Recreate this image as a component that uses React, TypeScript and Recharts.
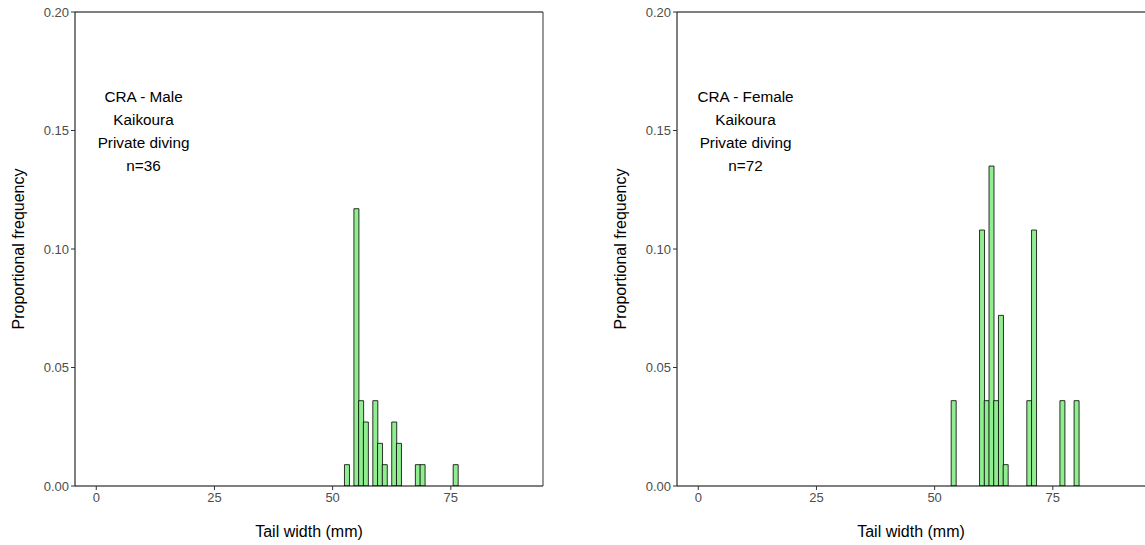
import React from "react";
import {
  BarChart,
  Bar,
  XAxis,
  YAxis,
  ReferenceLine,
  ReferenceDot,
  Label,
} from "recharts";

// tail width bins (mm) and proportional frequency
const maleWidths = [53, 55, 56, 57, 59, 60, 61, 63, 64, 68, 69, 76];
const maleFreq = [0.009, 0.117, 0.036, 0.027, 0.036, 0.018, 0.009, 0.027, 0.018, 0.009, 0.009, 0.009];

const femaleWidths = [54, 60, 61, 62, 63, 64, 65, 70, 71, 77, 80];
const femaleFreq = [0.036, 0.108, 0.036, 0.135, 0.036, 0.072, 0.009, 0.036, 0.108, 0.036, 0.036];

const xTicks = [0, 25, 50, 75];
const yTicks = [0, 0.05, 0.1, 0.15, 0.2];

const maleNote = ["CRA - Male", "Kaikoura", "Private diving", "n=36"];
const femaleNote = ["CRA - Female", "Kaikoura", "Private diving", "n=72"];

const FONT = '"Liberation Sans", Arial, sans-serif';

function NoteLabel(props: any) {
  const { viewBox, lines } = props;
  const cx = viewBox.x + (viewBox.width || 0) / 2;
  const cy = viewBox.y + (viewBox.height || 0) / 2;
  const lh = 23;
  const top = cy - ((lines.length - 1) * lh) / 2;
  return (
    <text
      x={cx}
      y={top}
      textAnchor="middle"
      dominantBaseline="central"
      fontSize={15.3}
      fill="#000"
      fontFamily={FONT}
    >
      {lines.map((l: string, i: number) => (
        <tspan key={i} x={cx} y={top + i * lh}>
          {l}
        </tspan>
      ))}
    </text>
  );
}

function Panel({ widths, freq, note, right }: any) {
  const data = widths.map((w: number, i: number) => ({ width: w, freq: freq[i] }));
  return (
    <BarChart
      width={right ? 572 : 543}
      height={545}
      data={data}
      margin={{ top: 12, right: right ? 29 : 0, bottom: 0, left: 0 }}
      barCategoryGap={0}
      barGap={0}
      style={{ fontFamily: FONT }}
    >
      <XAxis
        type="number"
        dataKey="width"
        domain={[-4.5, 94.5]}
        ticks={xTicks}
        interval={0}
        allowDataOverflow
        height={59}
        tickSize={4}
        tickMargin={3}
        tick={{ fill: "#4d4d4d", fontSize: 13 }}
        tickLine={{ stroke: "#333" }}
        axisLine={{ stroke: "#000" }}
      >
        <Label
          value="Tail width (mm)"
          position="insideBottom"
          offset={8}
          style={{ fill: "#000", fontSize: 16 }}
        />
      </XAxis>
      <YAxis
        type="number"
        domain={[0, 0.2]}
        ticks={yTicks}
        interval={0}
        allowDataOverflow
        width={75}
        tickSize={4}
        tickMargin={2}
        tickFormatter={(v: number) => v.toFixed(2)}
        tick={{ fill: "#4d4d4d", fontSize: 13 }}
        tickLine={{ stroke: "#333" }}
        axisLine={{ stroke: "#000" }}
      >
        <Label
          value="Proportional frequency"
          angle={-90}
          position="insideLeft"
          offset={18}
          style={{ fill: "#000", fontSize: 16, textAnchor: "middle" }}
        />
      </YAxis>
      <ReferenceLine y={0.2} stroke="#000" />
      {right && <ReferenceLine x={94.5} stroke="#333" />}
      <Bar
        dataKey="freq"
        fill="#90EE90"
        stroke="#000"
        strokeWidth={0.8}
        isAnimationActive={false}
      />
      <ReferenceDot
        x={10}
        y={0.15}
        r={0}
        fill="none"
        stroke="none"
        label={<NoteLabel lines={note} />}
      />
    </BarChart>
  );
}

export default function App() {
  return (
    <div
      style={{
        position: "absolute",
        left: 0,
        top: 0,
        width: 1145,
        height: 545,
        background: "#fff",
        fontFamily: FONT,
        overflow: "hidden",
      }}
    >
      <div style={{ position: "absolute", left: 0, top: 0 }}>
        <Panel widths={maleWidths} freq={maleFreq} note={maleNote} right />
      </div>
      <div style={{ position: "absolute", left: 602, top: 0 }}>
        <Panel widths={femaleWidths} freq={femaleFreq} note={femaleNote} right={false} />
      </div>
    </div>
  );
}
